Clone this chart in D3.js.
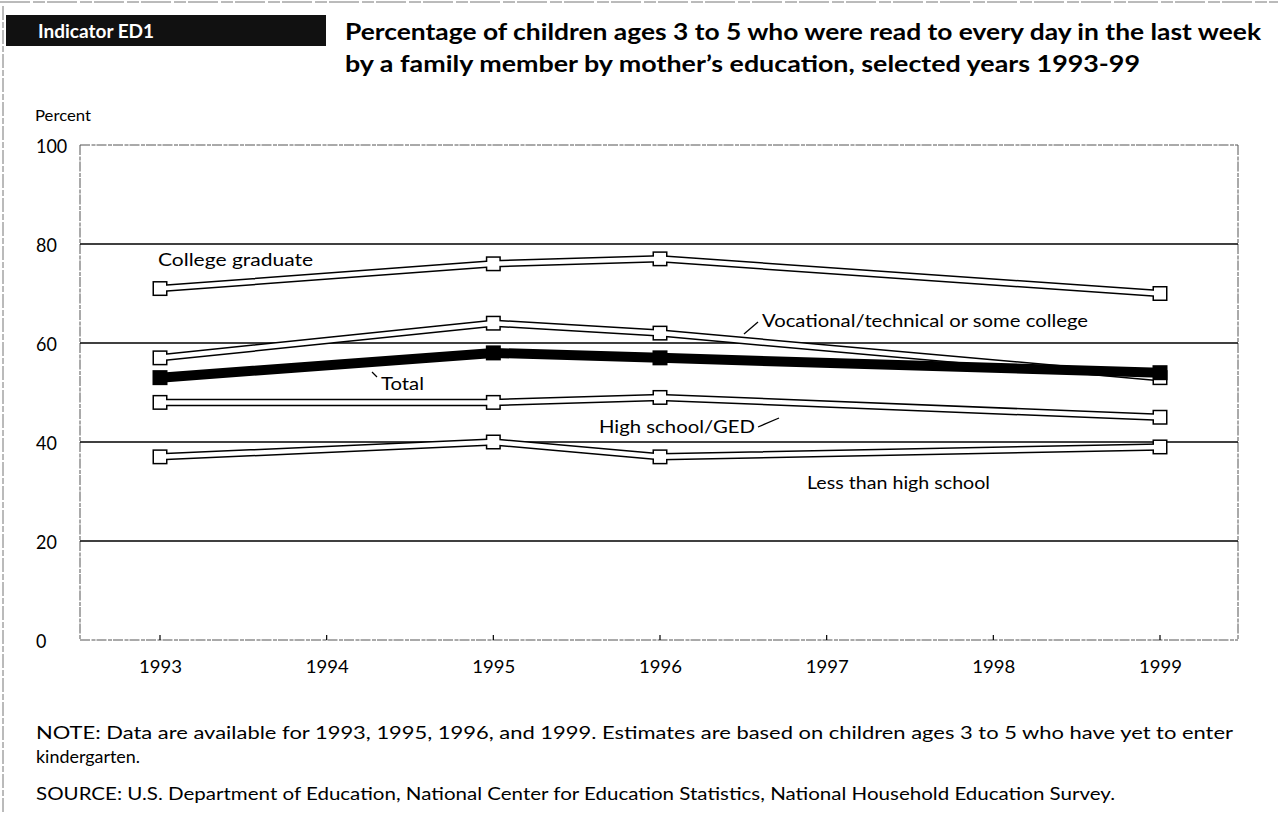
<!DOCTYPE html>
<html>
<head>
<meta charset="utf-8">
<script src="https://cdn.jsdelivr.net/npm/d3@7"></script>
<style>
  html, body { margin: 0; padding: 0; background: #fff; }
  svg { display: block; font-family: Lato, "Open Sans", sans-serif; }
</style>
</head>
<body>
<svg id="chart" width="1278" height="813"></svg>
<script>
// Survey years with data
const years = [1993, 1995, 1996, 1999];
// Axis ticks
const yearTicks = [1993, 1994, 1995, 1996, 1997, 1998, 1999];
const percentTicks = [0, 20, 40, 60, 80, 100];

// Percent read to every day, by mother's education
const collegeGraduate = [71, 76, 77, 70];
const vocationalSomeCollege = [57, 64, 62, 53];
const highSchoolGED = [48, 48, 49, 45];
const lessThanHighSchool = [37, 40, 37, 39];
const total = [53, 58, 57, 54];

const seriesNames = ["Less than high school", "High school/GED", "College graduate", "Vocational/technical or some college", "Total"];
const seriesValues = [lessThanHighSchool, highSchoolGED, collegeGraduate, vocationalSomeCollege, total];

const svg = d3.select("#chart");

const plotLeft = 80, plotRight = 1238, plotTop = 145, plotBottom = 640;
const x = d3.scaleLinear().domain([1992.52, 1999.468]).range([plotLeft, plotRight]);
const y = d3.scaleLinear().domain([0, 100]).range([plotBottom, plotTop]);

// wide geometric lettering: stretch text to a set run length
function spread(sel, w) {
  return sel.attr("textLength", w).attr("lengthAdjust", "spacingAndGlyphs");
}

// page edge marks
svg.append("line").attr("x1", 0).attr("x2", 1278).attr("y1", 2).attr("y2", 2)
  .attr("stroke", "#777").attr("stroke-width", 1).attr("stroke-dasharray", "30 3 12 2");
svg.append("line").attr("x1", 3).attr("x2", 3).attr("y1", 6).attr("y2", 813)
  .attr("stroke", "#777").attr("stroke-width", 1).attr("stroke-dasharray", "14 2 6 2");

// indicator tag
svg.append("rect").attr("x", 6).attr("y", 15).attr("width", 320).attr("height", 31).attr("fill", "#111");
svg.append("text").attr("x", 38).attr("y", 38).attr("fill", "#fff")
  .attr("font-size", 19).attr("font-weight", 700).text("Indicator ED1");

// title
spread(svg.append("text").attr("x", 345).attr("y", 40).attr("font-size", 23).attr("font-weight", 700)
  .text("Percentage of children ages 3 to 5 who were read to every day in the last week"), 916);
spread(svg.append("text").attr("x", 345).attr("y", 72).attr("font-size", 23).attr("font-weight", 700)
  .text("by a family member by mother\u2019s education, selected years 1993-99"), 795);

// y axis caption and labels
spread(svg.append("text").attr("x", 35).attr("y", 121).attr("font-size", 16).text("Percent"), 56);
svg.append("g").selectAll("text").data(percentTicks).join("text")
  .attr("x", 36).attr("y", d => y(d) + 8).attr("font-size", 19)
  .attr("textLength", d => String(d).length * 10.4).attr("lengthAdjust", "spacingAndGlyphs")
  .text(d => d);

// plot frame (dashed, light)
const frame = svg.append("g").attr("fill", "none").attr("stroke", "#555").attr("stroke-width", 1)
  .attr("stroke-dasharray", "10 1.5 4 1");
frame.append("line").attr("x1", plotLeft).attr("x2", plotRight).attr("y1", plotTop).attr("y2", plotTop);
frame.append("line").attr("x1", plotLeft).attr("x2", plotLeft).attr("y1", plotTop).attr("y2", plotBottom);
frame.append("line").attr("x1", plotRight).attr("x2", plotRight).attr("y1", plotTop).attr("y2", plotBottom);
frame.append("line").attr("x1", plotLeft).attr("x2", plotRight).attr("y1", plotBottom).attr("y2", plotBottom);

// gridlines
svg.append("g").selectAll("line").data(percentTicks.filter(d => d > 0 && d < 100)).join("line")
  .attr("x1", plotLeft).attr("x2", plotRight).attr("y1", d => y(d)).attr("y2", d => y(d))
  .attr("stroke", "#000").attr("stroke-width", 1.6);

// x axis ticks and labels
const xAxis = d3.axisBottom(x).tickValues(yearTicks).tickFormat(d3.format("d")).tickSize(0).tickPadding(20);
const gx = svg.append("g").attr("transform", `translate(0,${plotBottom})`).call(xAxis);
gx.select(".domain").remove();
gx.selectAll("text").attr("font-size", 18).attr("font-family", "Lato, 'Open Sans', sans-serif").attr("fill", "#000")
  .attr("textLength", 43).attr("lengthAdjust", "spacingAndGlyphs");
svg.append("g").selectAll("line").data(yearTicks).join("line")
  .attr("x1", d => x(d)).attr("x2", d => x(d)).attr("y1", plotBottom).attr("y2", plotBottom - 5)
  .attr("stroke", "#000").attr("stroke-width", 1.2);

// series lines: outlined white ribbons with open square markers, Total solid black
const line = d3.line().x((d, i) => x(years[i])).y(d => y(d));
const box = 15;
seriesValues.forEach((vals, si) => {
  const g = svg.append("g");
  const solid = seriesNames[si] === "Total";
  g.append("path").datum(vals).attr("d", line).attr("fill", "none")
    .attr("stroke", "#000").attr("stroke-width", solid ? 10 : 7.5);
  g.selectAll("rect.o").data(vals).join("rect").attr("class", "o")
    .attr("x", (d, i) => x(years[i]) - box / 2).attr("y", d => y(d) - box / 2)
    .attr("width", box).attr("height", box).attr("fill", "#000");
  if (!solid) {
    g.append("path").datum(vals).attr("d", line).attr("fill", "none")
      .attr("stroke", "#fff").attr("stroke-width", 4.5);
    g.selectAll("rect.i").data(vals).join("rect").attr("class", "i")
      .attr("x", (d, i) => x(years[i]) - box / 2 + 1.5).attr("y", d => y(d) - box / 2 + 1.5)
      .attr("width", box - 3).attr("height", box - 3).attr("fill", "#fff");
  }
});

// series labels with leader lines
const lab = svg.append("g").attr("font-size", 18);
spread(lab.append("text").attr("x", 158).attr("y", 266).text("College graduate"), 155);
spread(lab.append("text").attr("x", 762).attr("y", 327).text("Vocational/technical or some college"), 326);
spread(lab.append("text").attr("x", 381).attr("y", 390).text("Total"), 43);
spread(lab.append("text").attr("x", 599).attr("y", 433).text("High school/GED"), 156);
spread(lab.append("text").attr("x", 807).attr("y", 489).text("Less than high school"), 183);
const leaders = svg.append("g").attr("stroke", "#000").attr("stroke-width", 1.3);
leaders.append("line").attr("x1", 744).attr("y1", 334).attr("x2", 758).attr("y2", 322);
leaders.append("line").attr("x1", 372).attr("y1", 372).attr("x2", 377).attr("y2", 377);
leaders.append("line").attr("x1", 758).attr("y1", 427).attr("x2", 779).attr("y2", 418);

// notes
const notes = svg.append("g").attr("font-size", 17);
spread(notes.append("text").attr("x", 36).attr("y", 739)
  .text("NOTE: Data are available for 1993, 1995, 1996, and 1999. Estimates are based on children ages 3 to 5 who have yet to enter"), 1197);
spread(notes.append("text").attr("x", 36).attr("y", 763).text("kindergarten."), 104);
spread(notes.append("text").attr("x", 36).attr("y", 800)
  .text("SOURCE: U.S. Department of Education, National Center for Education Statistics, National Household Education Survey."), 1079);
</script>
</body>
</html>
